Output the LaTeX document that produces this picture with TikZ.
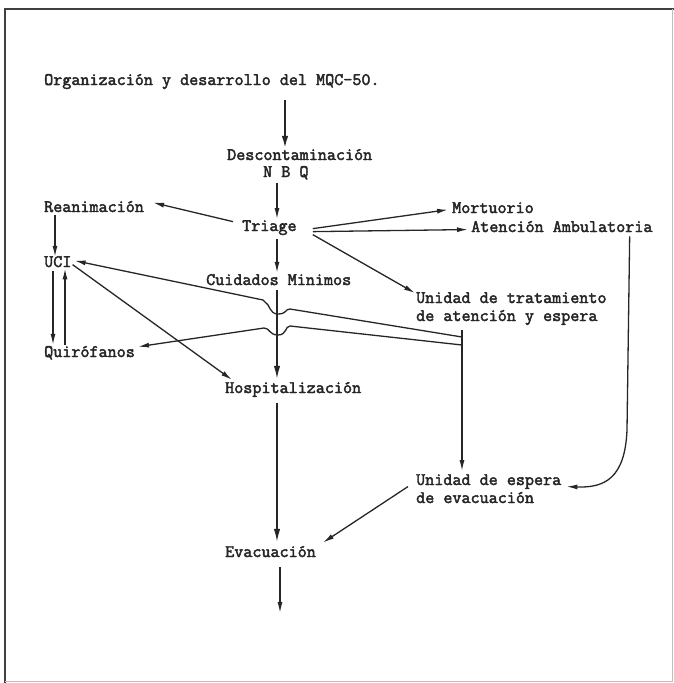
\documentclass[tikz,border=0pt]{standalone}
\usepackage{fontspec}
\newfontfamily\twfont[FakeBold=2.5]{Latin Modern Mono}
\usetikzlibrary{arrows.meta,calc}
\begin{document}
\begin{tikzpicture}[x=1pt,y=-1pt,
  lbl/.style={font=\twfont\fontsize{17.6}{20}\selectfont, inner sep=1pt, anchor=base west, text=black!85},
  arr/.style={-{Latex[length=11pt,width=5pt]}, line width=1.3pt, draw=black!85},
  bigarr/.style={-{Latex[length=13pt,width=6.5pt]}, line width=2.2pt, draw=black!85},
  ln/.style={line width=1.3pt, draw=black!85}]
\useasboundingbox (0,0) rectangle (674,683);
% frame
\draw[line width=2.5pt, black!75] (5,683) -- (5,9) -- (674,9);
\draw[line width=0.8pt, black!25] (672,9) -- (672,681) -- (5,681);

% nodes
\node[lbl] (org) at (43,85) {Organización y desarrollo del MQC-50.};
\node[lbl] (desc) at (226,160) {Descontaminación};
\node[lbl] (nbq) at (262,177) {N B Q};
\node[lbl] (triage) at (241,231) {Triage};
\node[lbl] (rean) at (43,212) {Reanimación};
\node[lbl] (mort) at (451,213) {Mortuorio};
\node[lbl] (aten) at (470,232) {Atención Ambulatoria};
\node[lbl] (uci) at (43,267) {UCI};
\node[lbl] (cuid) at (205,285) {Cuidados Minimos};
\node[lbl] (utrat) at (415,303) {Unidad de tratamiento};
\node[lbl] (utrat2) at (415,321) {de atención y espera};
\node[lbl] (quir) at (43,357) {Quirófanos};
\node[lbl] (hosp) at (224,393) {Hospitalización};
\node[lbl] (uesp) at (415,485) {Unidad de espera};
\node[lbl] (uesp2) at (415,503) {de evacuación};
\node[lbl] (evac) at (224,557) {Evacuación};
\coordinate (fin) at (280,613);
\coordinate (brk) at (462,330);
\coordinate (mainx) at (277,0);

% main vertical flow
\draw[bigarr] (285,100) -- ($(desc.north -| 285,0)+(0,1)$);
\draw[arr] ($(nbq.south -| mainx)+(0,2)$) -- ($(triage.north -| mainx)+(0,0)$);
\draw[arr] ($(triage.south -| mainx)+(0,3)$) -- ($(cuid.north -| mainx)+(0,0)$);
\draw[bigarr, line width=1.6pt] ($(cuid.south -| mainx)+(0,4)$) -- ($(hosp.north -| mainx)+(0,-2)$);
\draw[bigarr, line width=1.6pt] ($(hosp.south -| mainx)+(0,5)$) -- ($(evac.north -| mainx)+(0,-3)$);
\draw[arr] ($(evac.south -| fin)+(0,9)$) -- (fin);

% from Triage
\draw[arr] ($(triage.west)+(-8,-6)$) -- ($(rean.east)+(8,-4)$);
\draw[arr] ($(triage.east)+(15,1)$) -- ($(mort.west)+(-3,2)$);
\draw[arr] ($(triage.east)+(15,4)$) -- ($(aten.west)+(-2,3)$);
\draw[arr] ($(triage.east)+(15,7)$) -- ($(utrat.north west)+(0,2)$);

% left column
\draw[arr] ($(rean.south west)+(12,2)$) -- ($(uci.north west)+(12,2)$);
\draw[arr] ($(uci.south west)+(10,3)$) -- ($(quir.north west)+(10,0)$);
\draw[arr] ($(quir.north west)+(22,0)$) -- ($(uci.south west)+(22,0)$);
\draw[arr] ($(uci.east)+(0,3)$) -- ($(hosp.north west)+(8,-1)$);

% bracket from Unidad de tratamiento
\draw[arr] (brk) -- ($(uesp.north west)+(47,-2)$);
\draw[arr] ($(brk)+(0,7)$) -- (290,309)
  .. controls (285,309) and (287,314) .. (278,314)
  .. controls (269,314) and (270,304) .. (265,302)
  -- (263,300) -- ($(uci.east)+(2,-1)$);
\draw[arr] ($(brk)+(0,15)$) -- (290,326)
  .. controls (285,326) and (287,335) .. (278,335)
  .. controls (269,335) and (270,328) .. (264,328)
  -- ($(quir.east)+(2,-6)$);

% Atención Ambulatoria to Unidad de espera
\draw[arr] ($(aten.south east)+(-24,3)$) -- (627,430)
  .. controls (625,478) and (605,488) .. ($(uesp.east)+(4,5)$);
% Unidad de espera to Evacuación
\draw[arr] ($(uesp.west)+(-7,5)$) -- ($(evac.east)+(6,-9)$);
\end{tikzpicture}
\end{document}
